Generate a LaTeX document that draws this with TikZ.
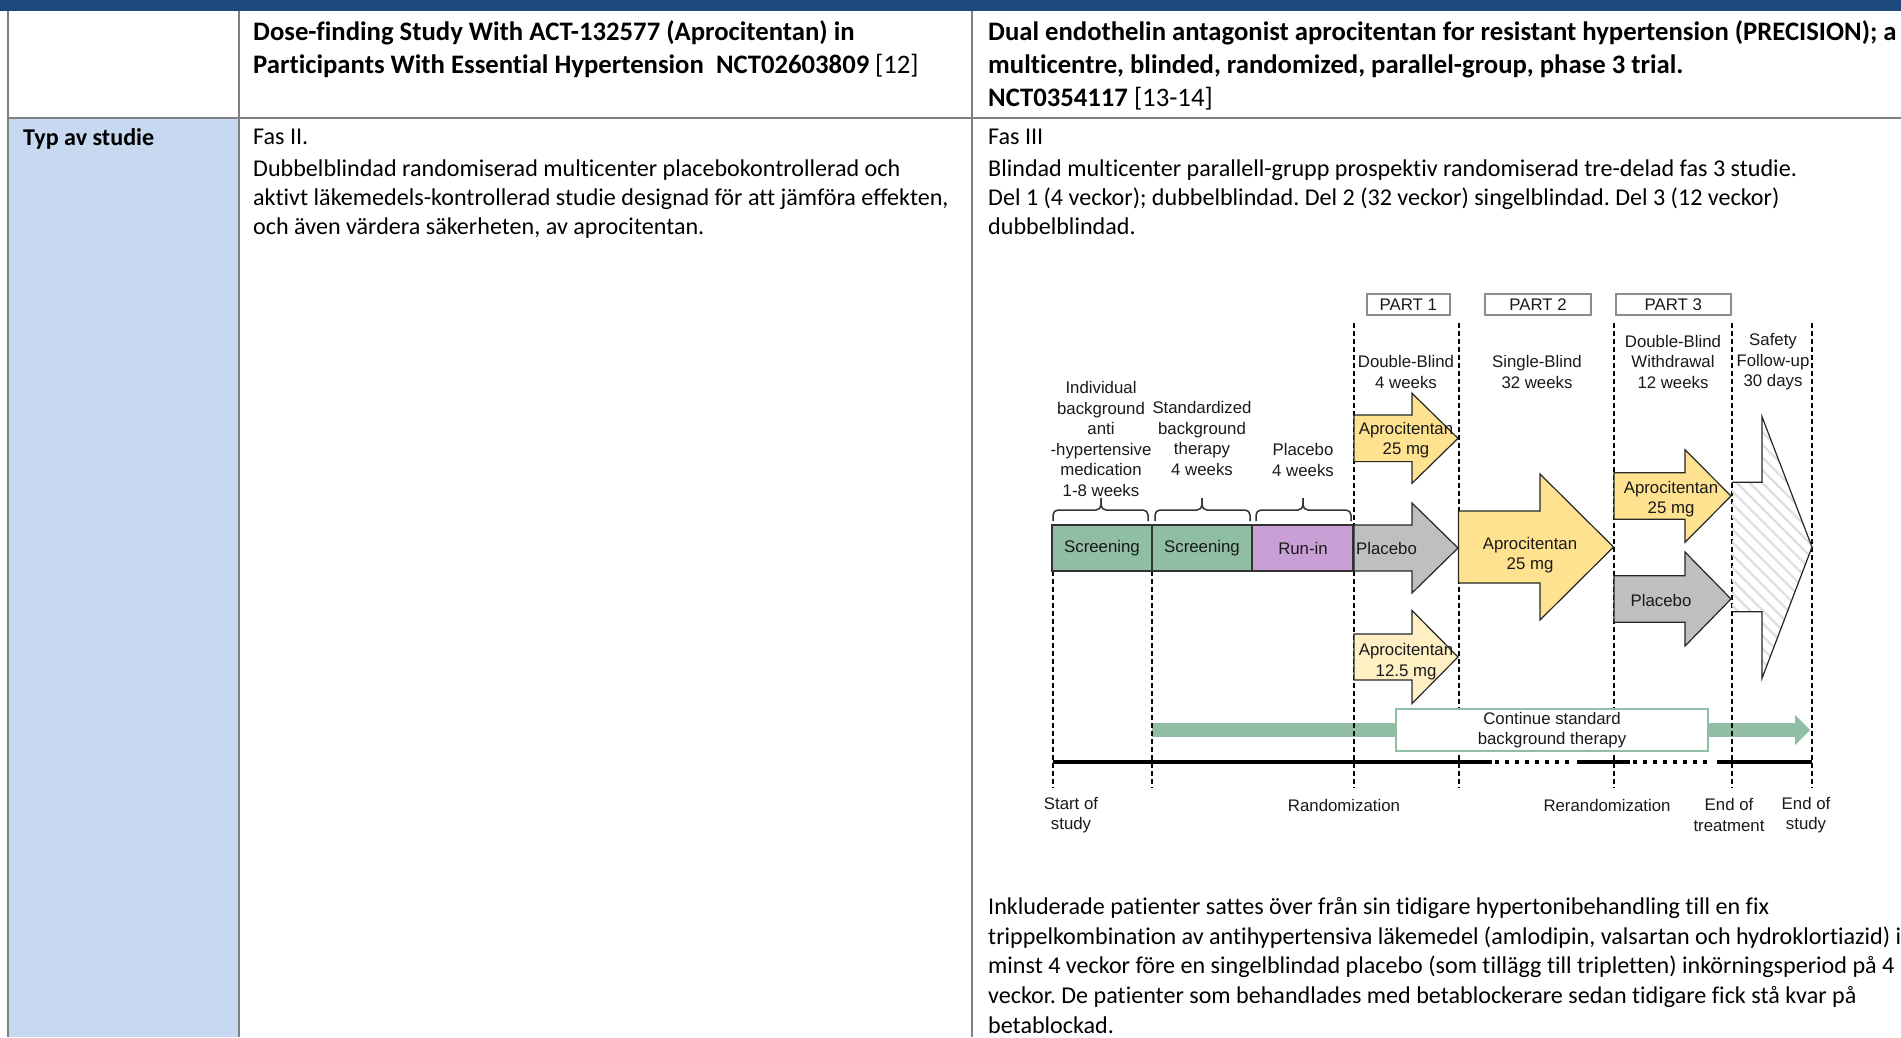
\documentclass[tikz,border=0pt]{standalone}
\usepackage{fontspec}
\setmainfont{Carlito}[Ligatures={TeX,NoCommon}]
\newfontfamily\arialf{Liberation Sans}
\usetikzlibrary{patterns.meta}
\frenchspacing
\definecolor{hdrblue}{RGB}{31,73,125}
\definecolor{cellblue}{RGB}{198,217,240}
\definecolor{gridgray}{RGB}{128,128,128}
\definecolor{scrgreen}{RGB}{143,190,164}
\definecolor{runpurple}{RGB}{201,160,214}
\definecolor{apyellow}{RGB}{255,226,143}
\definecolor{aplight}{RGB}{255,240,196}
\definecolor{plgray}{RGB}{191,191,191}
\definecolor{dtext}{RGB}{25,25,25}
\definecolor{partgray}{RGB}{140,140,140}
\newcommand\bkarrow[7]{%
  \path[#1] (#2,#5-#6) -- (#3,#5-#6) -- (#3,#5-#7) -- (#4,#5) -- (#3,#5+#7) -- (#3,#5+#6) -- (#2,#5+#6) -- cycle;}
\newcommand\brk[3]{% x0, xmid, x1
  \draw[bracestyle] (#1,521) |- (#2,510) -- (#2,498);
  \draw[bracestyle] (#3,521) |- (#2,510) -- (#2,498);}
\begin{document}
\begin{tikzpicture}[x=1pt,y=-1pt,
  body/.style={font=\fontsize{24.1}{29.5}\selectfont, anchor=base west, inner sep=0pt, text=black},
  bbody/.style={font=\fontsize{24.1}{29.5}\selectfont\bfseries, anchor=base west, inner sep=0pt, text=black},
  hbody/.style={font=\fontsize{26.7}{33}\selectfont\bfseries, anchor=base west, inner sep=0pt, text=black},
  dg/.style={font=\arialf\fontsize{16.8}{20.5}\selectfont, align=center, inner sep=0pt, text=dtext},
  grid/.style={draw=gridgray, line width=1.2pt},
  vdash/.style={draw=black, line width=1.8pt, dash pattern=on 5pt off 3pt},
  boxs/.style={draw=black!80, line width=1.2pt},
  arr/.style={draw=black!85, line width=1.2pt, line join=miter},
  partbox/.style={draw=partgray, line width=1.5pt, minimum height=21pt, inner sep=0pt, font=\arialf\fontsize{16.8}{20.5}\selectfont, text=dtext},
  bracestyle/.style={draw=black!80, line width=1.5pt, rounded corners=5pt},
  tline/.style={draw=black, line width=4pt},
  tdot/.style={draw=black, line width=4pt, dash pattern=on 4pt off 6pt}
]
\useasboundingbox (0,0) rectangle (1901,1037);
% ---------------- table ----------------
\fill[cellblue] (8,118) rectangle (239,1037);
\fill[hdrblue] (0,0) rectangle (1901,11);
\draw[grid] (8,11) -- (8,1037);
\draw[grid] (239,11) -- (239,1037);
\draw[grid] (972,11) -- (972,1037);
\draw[grid] (8,118) -- (1901,118);

% header row
\node[hbody] (h1) at (253,40) {Dose-finding Study With ACT-132577 (Aprocitentan) in};
\node[hbody] (h2) at (253,73) {Participants With Essential Hypertension\ \ NCT02603809 \mdseries[12]};
\node[hbody] (h3) at (988,40) {Dual endothelin antagonist aprocitentan for resistant hypertension (PRECISION); a};
\node[hbody] (h4) at (988,73) {multicentre, blinded, randomized, parallel-group, phase 3 trial.};
\node[hbody] (h5) at (988,106.5) {NCT0354117 \mdseries[13-14]};

% row 2
\node[bbody] (typ) at (23,145) {Typ av studie};
\node[body] (a1) at (253,144.5) {Fas II.};
\node[body] (a2) at (253,176) {Dubbelblindad randomiserad multicenter placebokontrollerad och};
\node[body] (a3) at (253,205) {aktivt läkemedels-kontrollerad studie designad för att jämföra effekten,};
\node[body] (a4) at (253,234) {och även värdera säkerheten, av aprocitentan.};
\node[body] (b1) at (988,144.5) {Fas III};
\node[body] (b2) at (988,176) {Blindad multicenter parallell-grupp prospektiv randomiserad tre-delad fas 3 studie.};
\node[body] (b3) at (988,205) {Del 1 (4 veckor); dubbelblindad. Del 2 (32 veckor) singelblindad. Del 3 (12 veckor)};
\node[body] (b4) at (988,234) {dubbelblindad.};
\node[body] (c1) at (988,914.5) {Inkluderade patienter sattes över från sin tidigare hypertonibehandling till en fix};
\node[body] (c2) at (988,944.2) {trippelkombination av antihypertensiva läkemedel (amlodipin, valsartan och hydroklortiazid) i};
\node[body] (c3) at (988,973.9) {minst 4 veckor före en singelblindad placebo (som tillägg till tripletten) inkörningsperiod på 4};
\node[body] (c4) at (988,1003.6) {veckor. De patienter som behandlades med betablockerare sedan tidigare fick stå kvar på};
\node[body] (c5) at (988,1033.3) {betablockad.};

% ---------------- diagram ----------------
% green background-therapy bar
\fill[scrgreen] (1152,723) rectangle (1796,737);
\fill[scrgreen] (1795,715) -- (1810,730) -- (1795,745) -- cycle;

% dashed time markers
\foreach \x in {1354,1459,1614,1732,1812} \draw[vdash] (\x,323) -- (\x,788);
\draw[vdash] (1053,571) -- (1053,788);
\draw[vdash] (1152,571) -- (1152,788);

% part boxes
\node[partbox, minimum width=83pt] (p1) at (1408.3,304.5) {PART 1};
\node[partbox, minimum width=106pt] (p2) at (1538,304.5) {PART 2};
\node[partbox, minimum width=115pt] (p3) at (1673.3,304.5) {PART 3};

% header labels
\node[dg] (l1) at (1101,439) {Individual\\background\\anti\\-hypertensive\\medication\\1-8 weeks};
\node[dg] (l2) at (1202,438.5) {Standardized\\background\\therapy\\4 weeks};
\node[dg] (l3) at (1303,460) {Placebo\\4 weeks};
\node[dg] (l4) at (1406,372) {Double-Blind\\4 weeks};
\node[dg] (l5) at (1537,372) {Single-Blind\\32 weeks};
\node[dg] (l6) at (1673,361.7) {Double-Blind\\Withdrawal\\12 weeks};
\node[dg] (l7) at (1773,361.7) {Safety\\Follow-up\\30 days};

% braces
\brk{1053}{1101}{1148}
\brk{1155}{1202}{1250}
\brk{1256}{1303}{1351}

% boxes
\draw[boxs, fill=scrgreen] (1052,525) rectangle (1152,571);
\draw[boxs, fill=scrgreen] (1152,525) rectangle (1252,571);
\draw[boxs, fill=runpurple] (1252,525) rectangle (1353,571);
\node[dg] (s1) at (1102,548) {Screening};
\node[dg] (s2) at (1202,548) {Screening};
\node[dg] (s3) at (1303,548) {Run-in};

% part 1 arrows
\bkarrow{arr, fill=apyellow}{1354}{1412}{1458}{438.3}{23.3}{45}
\bkarrow{arr, fill=plgray}{1354}{1412}{1458}{548}{23}{45}
\bkarrow{arr, fill=aplight}{1354}{1412}{1458}{657}{23}{46.5}
\node[dg] (q1) at (1406,440) {Aprocitentan\\25 mg};
\node[dg, anchor=west] (q2) at (1356,548) {Placebo};
\node[dg] (q3) at (1406,661.7) {Aprocitentan\\12.5 mg};

% part 2 arrow
\bkarrow{arr, fill=apyellow}{1458.5}{1540}{1613.5}{547}{36}{73}
\node[dg] (q4) at (1530,555) {Aprocitentan\\25 mg};

% part 3 arrows
\bkarrow{arr, fill=apyellow}{1614}{1685}{1731}{496}{23.3}{46.3}
\bkarrow{arr, fill=plgray}{1614}{1685}{1731}{599}{23.3}{47}
\node[dg] (q5) at (1671,499) {Aprocitentan\\25 mg};
\node[dg] (q6) at (1661,600) {Placebo};

% safety follow-up (hatched)
\path[pattern={Lines[angle=-45, distance=9pt, line width=2.2pt]}, pattern color=black!13]
  (1732,482.3) -- (1762,482.3) -- (1762,416.7) -- (1812,547) -- (1762,678.3) -- (1762,611.7) -- (1732,611.7) -- cycle;
\draw[arr] (1732,482.3) -- (1762,482.3) -- (1762,416.7) -- (1812,547) -- (1762,678.3) -- (1762,611.7) -- (1732,611.7);

% continue standard background therapy
\node[draw=scrgreen, line width=1.8pt, fill=white, minimum width=312pt, minimum height=42pt, inner sep=0pt] (cont) at (1552,730) {};
\node[dg] (contt) at (cont.center) {Continue standard\\background therapy};

% timeline
\draw[tline] (1053,762) -- (1492,762);
\draw[tdot] (1495,762) -- (1572,762);
\draw[tline] (1577,762) -- (1630,762);
\draw[tdot] (1633,762) -- (1707,762);
\draw[tline] (1717,762) -- (1812,762);

% bottom labels
\node[dg] (e1) at (1071,815) {Start of\\study};
\node[dg] (e2) at (1344,805) {Randomization};
\node[dg] (e3) at (1607,805) {Rerandomization};
\node[dg] (e4) at (1729,815) {End of\\treatment};
\node[dg] (e5) at (1806,815) {End of\\study};
\end{tikzpicture}
\end{document}
